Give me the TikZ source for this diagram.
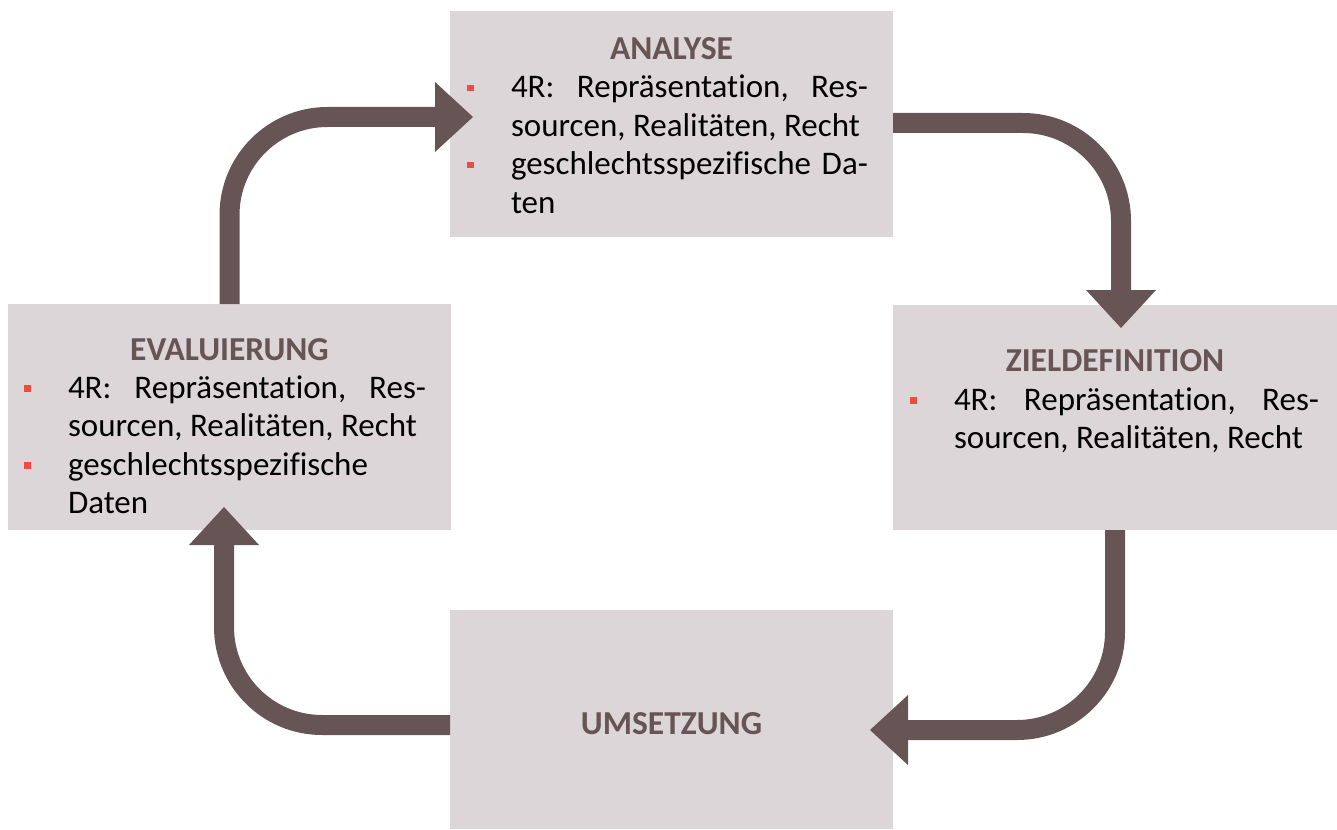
\documentclass[tikz,border=0pt]{standalone}
\usepackage{fontspec}
\setmainfont{Carlito}[Ligatures=NoCommon]
\usetikzlibrary{arrows.meta}
\definecolor{boxfill}{HTML}{DCD6D8}
\definecolor{flowc}{HTML}{675455}
\definecolor{bulred}{HTML}{EE4C3F}
\newcommand\bodyfnt{\fontsize{33}{38.4}\selectfont}
\newcommand\headfnt{\fontsize{33.5}{38.4}\selectfont\bfseries\color{flowc}}
\newcommand\bul{\textcolor{bulred}{\rule[6.5pt]{6.5pt}{6.5pt}}}
\newcommand\vset{\baselineskip=38.4pt\lineskiplimit=-100pt\lineskip=0pt\parindent=0pt}
\begin{document}
\begin{tikzpicture}[x=1pt,y=-1pt,
  box/.style={fill=boxfill, draw=none, anchor=north west, inner sep=0pt, outer sep=0pt,
              minimum width=443pt, minimum height=226pt},
  txt/.style={inner sep=0pt, outer sep=0pt, anchor=base west, font=\bodyfnt},
  head/.style={inner sep=0pt, outer sep=0pt, anchor=base, font=\headfnt},
  flow/.style={draw=flowc, line width=20pt, rounded corners=98pt,
               -{Triangle[width=70pt,length=38pt,line width=0pt]}}]
\useasboundingbox (0,0) rectangle (1337,829);

% boxes
\node[box] (analyse) at (450,11) {};
\node[box] (eval) at (8,304) {};
\node[box, minimum width=444pt, minimum height=225pt] (ziel) at (893,305) {};
\node[box, minimum height=219pt] (umsetzung) at (450,610) {};

% titles
\node[head] (analyseH) at (671.5,59.3) {ANALYSE};
\node[head] (evalH) at (229.5,360) {EVALUIERUNG};
\node[head] (zielH) at (1115,371.7) {ZIELDEFINITION};
\node[head] (umsetzungH) at (671.5,734.5) {UMSETZUNG};

% body texts
\node[txt] (analyseT) at (450,98) {\vtop{\vset
  \hbox{\hskip17pt\bul\hskip37.5pt\hbox to 357pt{4R:\hfil Repräsentation,\hfil Res-}}
  \hbox{\hskip61pt sourcen, Realitäten, Recht}
  \hbox{\hskip17pt\bul\hskip37.5pt\hbox to 357pt{geschlechtsspezifische\hfil Da-}}
  \hbox{\hskip61pt ten}}};
\node[txt] (evalT) at (8,398.3) {\vtop{\vset
  \hbox{\hskip16pt\bul\hskip37.5pt\hbox to 358pt{4R:\hfil Repräsentation,\hfil Res-}}
  \hbox{\hskip60pt sourcen, Realitäten, Recht}
  \hbox{\hskip16pt\bul\hskip37.5pt geschlechtsspezifische}
  \hbox{\hskip60pt Daten}}};
\node[txt] (zielT) at (893,410) {\vtop{\vset
  \hbox{\hskip17pt\bul\hskip37.5pt\hbox to 365pt{4R:\hfil Repräsentation,\hfil Res-}}
  \hbox{\hskip61pt sourcen, Realitäten, Recht}}};

% connectors
\draw[flow] (eval.north) |- ([xshift=23pt,yshift=7pt]analyse.west);
\draw[flow] ([yshift=1pt]analyse.east) -| ([xshift=6pt,yshift=-23pt]ziel.north);
\draw[flow] (ziel.south) |- ([xshift=-23pt,yshift=-10.5pt]umsetzung.east);
\draw[flow] ([yshift=-5.5pt]umsetzung.west) -| ([xshift=-5.5pt,yshift=23pt]eval.south);
\end{tikzpicture}
\end{document}
